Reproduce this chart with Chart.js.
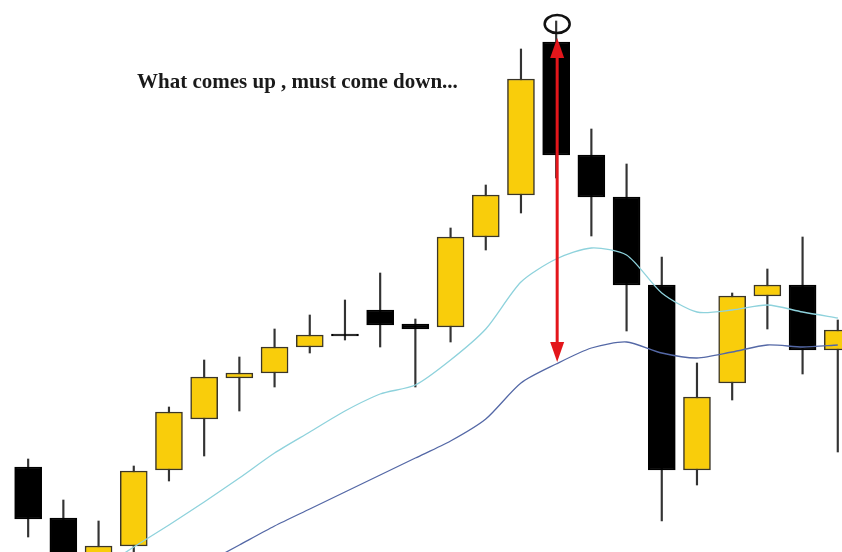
<!DOCTYPE html>
<html>
<head>
<meta charset="utf-8">
<script src="https://cdn.jsdelivr.net/npm/chart.js@4"></script>
<style>
  html, body { margin: 0; padding: 0; background: #fff; }
  .chart-container { width: 842px; height: 552px; position: relative; }
</style>
</head>
<body>
<div class="chart-container">
  <canvas id="chartCanvas"></canvas>
</div>
<script>
// candles (price units, 0 = bottom edge)
const opens  = [85, 34, -10, 6, 82, 133, 174, 179, 205, 218, 242, 228, 225, 315, 357, 510, 397, 355, 267, 82, 169, 256, 267, 202];
const closes = [33, -8, 6, 81, 140, 175, 179, 205, 217, 216, 227, 223, 315, 357, 473, 397, 355, 267, 82, 155, 256, 267, 202, 222];
const highs  = [93, 52, 31, 86, 145, 192, 195, 223, 237, 252, 279, 233, 324, 367, 503, 531, 423, 388, 295, 189, 259, 283, 315, 232];
const lows   = [15, -20, -20, -2, 71, 96, 141, 165, 199, 212, 205, 165, 210, 302, 339, 374, 316, 221, 31, 67, 152, 223, 178, 100];

// moving averages (null = not drawn yet)
const fastMA = [null, null, -18, 5, 27, 50, 74, 99, 120, 141, 158, 167, 192, 223, 270, 293, 304, 297, 259, 240, 242, 247, 240, 234];
const slowMA = [null, null, null, null, null, -12, 7, 26, 43, 60, 77, 94, 111, 133, 169, 188, 204, 210, 199, 194, 200, 207, 205, 207];

const caption = 'What comes up , must come down...';
const arrowIndex = 15;
const arrowTop = 514;
const arrowBottom = 190;
const circleValue = 528;

const idx = opens.map((_, i) => i);
const YELLOW = '#f9cd0b';

const annotations = {
  id: 'annotations',
  afterDatasetsDraw(chart) {
    const { ctx, scales: { x, y } } = chart;
    const px = x.getPixelForValue(arrowIndex) + 1;
    const yTop = y.getPixelForValue(arrowTop);
    const yBot = y.getPixelForValue(arrowBottom);
    ctx.save();
    // red double arrow
    ctx.strokeStyle = '#e3161b';
    ctx.fillStyle = '#e3161b';
    ctx.lineWidth = 3;
    ctx.beginPath();
    ctx.moveTo(px, yTop + 10);
    ctx.lineTo(px, yBot - 10);
    ctx.stroke();
    ctx.beginPath();
    ctx.moveTo(px, yTop);
    ctx.lineTo(px - 7, yTop + 20);
    ctx.lineTo(px + 7, yTop + 20);
    ctx.closePath();
    ctx.fill();
    ctx.beginPath();
    ctx.moveTo(px, yBot);
    ctx.lineTo(px - 7, yBot - 20);
    ctx.lineTo(px + 7, yBot - 20);
    ctx.closePath();
    ctx.fill();
    // circle round the high
    ctx.strokeStyle = '#111';
    ctx.lineWidth = 2.5;
    ctx.beginPath();
    ctx.ellipse(px, y.getPixelForValue(circleValue), 12.5, 9, 0, 0, Math.PI * 2);
    ctx.stroke();
    // caption
    ctx.fillStyle = '#1a1a1a';
    ctx.font = "bold 21px 'Liberation Serif', serif";
    ctx.textBaseline = 'alphabetic';
    ctx.fillText(caption, chart.chartArea.left + 137, chart.chartArea.top + 88);
    ctx.restore();
  }
};

new Chart(document.getElementById('chartCanvas'), {
  type: 'bar',
  data: {
    datasets: [
      {
        type: 'line',
        data: idx.map(i => ({ x: i, y: fastMA[i] })),
        borderColor: '#8ed2dc',
        borderWidth: 1.3,
        pointRadius: 0,
        tension: 0.25,
        spanGaps: false,
        order: 0
      },
      {
        type: 'line',
        data: idx.map(i => ({ x: i, y: slowMA[i] })),
        borderColor: '#5468a6',
        borderWidth: 1.3,
        pointRadius: 0,
        tension: 0.25,
        order: 0
      },
      {
        data: idx.map(i => ({ x: i, y: [opens[i], closes[i]] })),
        backgroundColor: idx.map(i => closes[i] >= opens[i] ? YELLOW : '#000'),
        borderColor: idx.map(i => closes[i] >= opens[i] ? '#3a3528' : '#000'),
        borderWidth: 1.5,
        borderSkipped: false,
        barThickness: 27,
        grouped: false,
        order: 1
      },
      {
        data: idx.map(i => ({ x: i, y: [lows[i], highs[i]] })),
        backgroundColor: '#333',
        barThickness: 1.5,
        grouped: false,
        order: 2
      }
    ]
  },
  options: {
    responsive: true,
    maintainAspectRatio: false,
    animation: false,
    layout: { padding: 0 },
    scales: {
      x: { type: 'linear', min: -0.8, max: 23.12, offset: false, display: false },
      y: { min: 0, max: 552, display: false }
    },
    plugins: {
      legend: { display: false },
      tooltip: { enabled: false }
    }
  },
  plugins: [annotations]
});
</script>
</body>
</html>
